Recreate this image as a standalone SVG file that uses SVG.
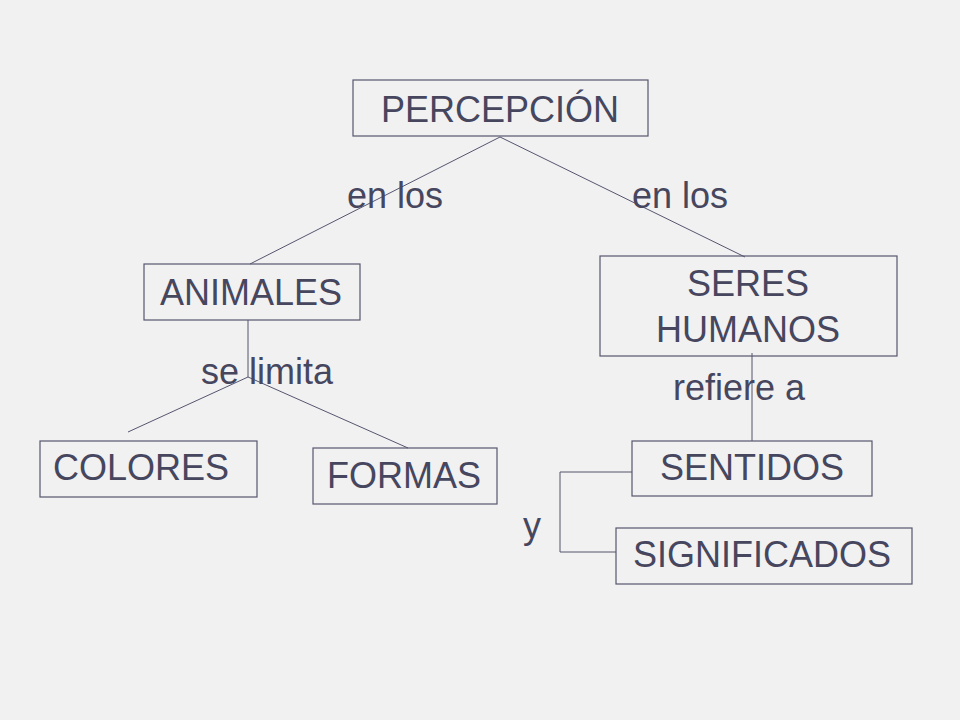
<svg xmlns="http://www.w3.org/2000/svg" width="960" height="720" viewBox="0 0 960 720">
<style>
.box{fill:none;stroke:#55556f;stroke-width:1.2}
.t{font-family:"Liberation Sans",Arial,sans-serif;font-size:36px;fill:#46465e;text-anchor:middle}
.c{fill:none;stroke:#55556f;stroke-width:1}
</style>
<rect width="960" height="720" fill="#f1f1f1"/>
<g id="connectors">
<line class="c" x1="500" y1="137" x2="250" y2="264"/>
<line class="c" x1="500" y1="137" x2="745" y2="257"/>
<line class="c" x1="248" y1="320" x2="248" y2="377"/>
<line class="c" x1="248" y1="377" x2="128" y2="432"/>
<line class="c" x1="248" y1="377" x2="408" y2="448"/>
<line class="c" x1="752" y1="353" x2="752" y2="441"/>
<polyline class="c" points="632,472 560,472 560,552 616,552"/>
<text class="t" x="395" y="208">en los</text>
<text class="t" x="680" y="208">en los</text>
<text class="t" x="267" y="384">se limita</text>
<text class="t" x="739" y="400">refiere a</text>
<text class="t" x="532" y="538">y</text>
</g>
<g id="percepcion">
<rect class="box" x="353" y="80" width="295" height="56"/>
<text class="t" x="500" y="122">PERCEPCIÓN</text>
</g>
<g id="animales">
<rect class="box" x="144" y="264" width="216" height="56"/>
<text class="t" x="251" y="305">ANIMALES</text>
</g>
<g id="seres-humanos">
<rect class="box" x="600" y="256" width="297" height="100"/>
<text class="t" x="748" y="296">SERES</text>
<text class="t" x="748" y="342">HUMANOS</text>
</g>
<g id="colores">
<rect class="box" x="40" y="441" width="217" height="56"/>
<text class="t" x="141" y="480">COLORES</text>
</g>
<g id="formas">
<rect class="box" x="313" y="448" width="184" height="56"/>
<text class="t" x="404" y="488">FORMAS</text>
</g>
<g id="sentidos">
<rect class="box" x="632" y="441" width="240" height="55"/>
<text class="t" x="752" y="480">SENTIDOS</text>
</g>
<g id="significados">
<rect class="box" x="616" y="528" width="296" height="56"/>
<text class="t" x="762" y="567">SIGNIFICADOS</text>
</g>
</svg>
